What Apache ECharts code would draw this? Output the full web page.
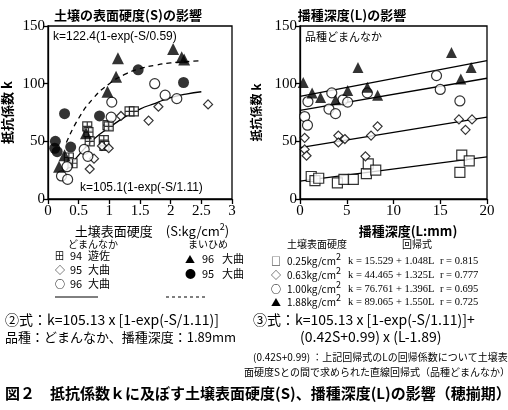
<!DOCTYPE html>
<html><head><meta charset="utf-8">
<script src="https://cdn.jsdelivr.net/npm/echarts@6/dist/echarts.min.js"></script>
<style>html,body{margin:0;padding:0;background:#fff}#c{width:508px;height:410px}</style>
</head><body><div id="c"></div>
<script>
// ---- Left panel: k vs soil surface hardness S ----
var domYusa94 = [[0.34,36],[0.40,31],[0.64,63],[0.66,58],[0.68,50],[0.91,51],[0.92,46],[0.97,64],[0.99,63],[1.33,76],[1.40,76]];
var domOmagari95 = [[0.68,26],[0.75,35],[0.88,46],[0.99,44],[1.19,72],[1.64,68],[1.80,80],[2.61,82]];
var domOmagari96 = [[0.22,20],[0.32,17],[0.31,28],[0.59,43],[0.65,37],[1.03,71],[1.04,84],[1.74,100],[1.91,90],[2.10,87]];
var maiOmagari96 = [[0.18,28],[0.27,38],[0.62,57],[0.97,93],[1.11,106],[1.14,122],[2.04,130],[2.18,123],[2.22,121]];
var maiOmagari95 = [[0.12,50],[0.11,44],[0.15,41],[0.27,74],[0.37,45],[0.84,72],[1.47,112],[2.21,101]];
var curveMaihime = [[0.3,49],[0.5,70],[0.75,88],[1,100],[1.25,108],[1.5,113],[1.75,116],[2,118],[2.25,119],[2.5,120]];
var curveDoman = [[0.3,25],[0.5,38],[0.75,52],[1,62],[1.25,71],[1.5,78],[1.75,83],[2,88],[2.25,91],[2.5,93]];
// ---- Right panel: k vs sowing depth L ----
var sq025 = [[1.2,19.5],[1.6,16],[2.0,18],[4.0,14],[4.7,17],[5.7,17],[7.1,22],[7.3,30.5],[8.1,25],[17.1,23],[17.3,38],[18.1,33]];
var dia063 = [[0.5,53],[0.5,43],[0.7,37.5],[4.1,55],[4.1,49],[4.8,52],[7.0,37],[7.6,55],[8.3,63],[17.0,69],[17.7,60],[18.4,69]];
var cir100 = [[0.5,71.5],[0.8,64],[0.85,84.5],[3.1,78],[3.4,92],[3.8,74],[4.6,86],[5.1,84],[7.2,92],[14.6,107],[15.0,95],[17.1,85]];
var tri188 = [[0.35,101],[1.3,92],[2.2,88],[3.8,86],[5.1,94],[6.2,114],[7.2,97],[8.3,90],[16.2,127],[17.2,104],[18.3,114]];
var reg025 = [[0,15.5],[20,36.5]];
var reg063 = [[0,44.5],[20,71]];
var reg100 = [[0,76.8],[20,104.7]];
var reg188 = [[0,89],[20,120]];
var yTicks = {min:0,max:150,interval:50};

var JP = '"Noto Sans CJK JP", sans-serif';
var SERIF = '"Liberation Serif", serif';
var crossSq = 'path://M0,0H10V10H0Z M5,0V10 M0,5H10';

function sc(data, xi, sym, size, filled){
  return {type:'scatter', xAxisIndex:xi, yAxisIndex:xi, data:data, symbol:sym, symbolSize:size, z:5,
    itemStyle:{color: filled ? '#000' : '#fff', borderColor:'#000', borderWidth: filled?0:1.2}};
}
function ln(data, xi, dashed, smooth){
  return {type:'line', xAxisIndex:xi, yAxisIndex:xi, data:data, showSymbol:false, smooth:smooth, z:3,
    lineStyle:{color:'#000', width:1.3, type: dashed ? [5,4] : 'solid'}};
}
function xA(gi, max, interval){
  return {gridIndex:gi, type:'value', min:0, max:max, interval:interval,
    axisLine:{lineStyle:{color:'#000',width:1.3}}, axisTick:{inside:false,length:5,lineStyle:{color:'#000',width:1.3}},
    splitLine:{show:false}, axisLabel:{color:'#000', fontFamily:'serif', fontSize:15, margin:5}};
}
function yA(gi, nameSize){
  return {gridIndex:gi, type:'value', min:yTicks.min, max:yTicks.max, interval:yTicks.interval,
    name:'抵抗係数 k', nameLocation:'middle', nameRotate:90, nameGap: gi===0?34:38,
    nameTextStyle:{color:'#000', fontFamily:'Noto Sans CJK JP', fontSize:nameSize, fontWeight:'bold'},
    axisLine:{lineStyle:{color:'#000',width:1.3}}, axisTick:{length:5,lineStyle:{color:'#000',width:1.3}},
    splitLine:{show:false}, axisLabel:{color:'#000', fontFamily:'serif', fontSize:15, margin:3}};
}
function t(x,y,text,size,opts){
  opts = opts||{};
  var st = {text:text, x:x, y:y, fill:'#000', font:(opts.bold?'bold ':'')+size+'px '+(opts.family||JP),
    textAlign:opts.align||'left', textVerticalAlign:'middle'};
  if (opts.rich) st.rich = opts.rich;
  return {type:'text', style:st, z:10};
}
var supRich = {s:{fontSize:9, fontFamily:'Noto Sans CJK JP', verticalAlign:'top', padding:[0,0,8,0]}};

var chart = echarts.init(document.getElementById('c'), null, {renderer:'canvas'});
chart.setOption({
  animation:false,
  backgroundColor:'#fff',
  grid:[
    {left:48, top:26, width:184, height:173, show:true, borderColor:'#000', borderWidth:1.3, backgroundColor:'transparent'},
    {left:300, top:26, width:187, height:173, show:true, borderColor:'#000', borderWidth:1.3, backgroundColor:'transparent'}
  ],
  xAxis:[xA(0,3,0.5), xA(1,20,5)],
  yAxis:[yA(0,13), yA(1,12)],
  series:[
    ln(curveMaihime,0,true,true),
    ln(curveDoman,0,false,true),
    sc(domYusa94,0,crossSq,9,false),
    sc(domOmagari95,0,'diamond',9,false),
    sc(domOmagari96,0,'circle',10,false),
    sc(maiOmagari96,0,'triangle',12,true),
    sc(maiOmagari95,0,'circle',11,true),
    ln(reg025,1,false,false),
    ln(reg063,1,false,false),
    ln(reg100,1,false,false),
    ln(reg188,1,false,false),
    sc(sq025,1,'rect',10,false),
    sc(dia063,1,'diamond',9,false),
    sc(cir100,1,'circle',10,false),
    sc(tri188,1,'triangle',11,true)
  ],
  graphic:[
    t(128,15,'土壌の表面硬度(S)の影響',13,{align:'center',bold:true}),
    t(352,15,'播種深度(L)の影響',13,{align:'center',bold:true}),
    t(53,37,'k=122.4(1-exp(-S/0.59)',12,{family:'"Liberation Sans", sans-serif'}),
    t(80,188,'k=105.1(1-exp(-S/1.11)',12,{family:'"Liberation Sans", sans-serif'}),
    t(305,37,'品種どまんなか',11),
    t(152,231,'土壌表面硬度　(S:kg/cm{s|2})',13,{align:'center',rich:supRich}),
    t(408,231,'播種深度(L:mm)',13,{align:'center',bold:true}),
    // left legend
    t(68,244,'どまんなか',10),
    t(188,244,'まいひめ',10),
    t(55,256,'田',9), t(70,256,'94',11), t(88,256,'遊佐',11),
    t(55,270,'◇',10), t(70,270,'95',11), t(88,270,'大曲',11),
    t(55,284,'○',10), t(70,284,'96',11), t(88,284,'大曲',11),
    t(185,259,'▲',10), t(202,259,'96',11), t(222,259,'大曲',11),
    t(185,274,'●',11), t(202,274,'95',11), t(222,274,'大曲',11),
    {type:'line', shape:{x1:55,y1:297,x2:98,y2:297}, style:{stroke:'#000',lineWidth:1}},
    {type:'line', shape:{x1:166,y1:297,x2:208,y2:297}, style:{stroke:'#000',lineWidth:1,lineDash:[3,3]}},
    // right legend
    t(287,244,'土壌表面硬度',10),
    t(402,244,'回帰式',10),
    t(271,261,'□',10), t(287,261,'0.25kg/cm{s|2}',10,{rich:supRich}), t(348,261,'k = 15.529 + 1.048L',10.5,{family:SERIF}), t(440,261,'r = 0.815',10.5,{family:SERIF}),
    t(271,275,'◇',10), t(287,275,'0.63kg/cm{s|2}',10,{rich:supRich}), t(348,275,'k = 44.465 + 1.325L',10.5,{family:SERIF}), t(440,275,'r = 0.777',10.5,{family:SERIF}),
    t(271,289,'○',10), t(287,289,'1.00kg/cm{s|2}',10,{rich:supRich}), t(348,289,'k = 76.761 + 1.396L',10.5,{family:SERIF}), t(440,289,'r = 0.695',10.5,{family:SERIF}),
    t(271,302,'▲',10), t(287,302,'1.88kg/cm{s|2}',10,{rich:supRich}), t(348,302,'k = 89.065 + 1.550L',10.5,{family:SERIF}), t(440,302,'r = 0.725',10.5,{family:SERIF}),
    // formulas
    t(5,320,'②式：k=105.13 x [1-exp(-S/1.11)]',14),
    t(253,320,'③式：k=105.13 x [1-exp(-S/1.11)]+',14),
    t(5,337,'品種：どまんなか、播種深度：1.89mm',13),
    t(300,337,'(0.42S+0.99) x (L-1.89)',14),
    t(253,357,'(0.42S+0.99) ：上記回帰式のLの回帰係数について土壌表',10),
    t(244,372,'面硬度Sとの間で求められた直線回帰式（品種どまんなか）',10),
    t(5,393,'図２　抵抗係数ｋに及ぼす土壌表面硬度(S)、播種深度(L)の影響（穂揃期）',15,{bold:true})
  ]
});
</script></body></html>
